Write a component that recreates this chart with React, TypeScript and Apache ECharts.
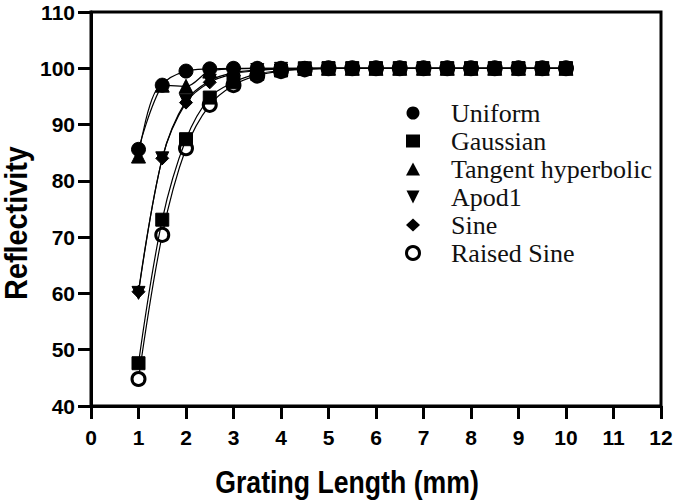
import React, { useEffect, useRef } from "react";
import * as echarts from "echarts";

const xValues = [1, 1.5, 2, 2.5, 3, 3.5, 4, 4.5, 5, 5.5, 6, 6.5, 7, 7.5, 8, 8.5, 9, 9.5, 10];
const uniform = [85.6, 97.0, 99.5, 99.9, 100, 100, 100, 100, 100, 100, 100, 100, 100, 100, 100, 100, 100, 100, 100];
const gaussian = [47.6, 73.1, 87.4, 94.8, 97.5, 99.0, 99.6, 99.9, 100, 100, 100, 100, 100, 100, 100, 100, 100, 100, 100];
const tangentHyperbolic = [84.4, 97.0, 96.8, 99.5, 99.9, 100, 100, 100, 100, 100, 100, 100, 100, 100, 100, 100, 100, 100, 100];
const apod1 = [60.1, 84.0, 94.2, 97.8, 99.2, 99.7, 99.9, 100, 100, 100, 100, 100, 100, 100, 100, 100, 100, 100, 100];
const sine = [60.3, 84.0, 93.9, 97.5, 99.0, 99.6, 99.9, 100, 100, 100, 100, 100, 100, 100, 100, 100, 100, 100, 100];
const raisedSine = [44.8, 70.4, 85.8, 93.5, 97.0, 98.7, 99.5, 99.8, 100, 100, 100, 100, 100, 100, 100, 100, 100, 100, 100];

const xTicks = { min: 0, max: 12, interval: 1 };
const yTicks = { min: 40, max: 110, interval: 10 };
const xTitle = "Grating Length (mm)";
const yTitle = "Reflectivity";
const downTriangle = "path://M0,0L10,0L5,10Z";
const sans = "'Liberation Sans', Arial, sans-serif";

export default function App() {
  const ref = useRef<HTMLDivElement>(null);
  useEffect(() => {
    if (!ref.current) return;
    const chart = echarts.init(ref.current, null, { renderer: "svg" });
    const pair = (ys: number[]) => xValues.map((x, i) => [x, ys[i]]);
    const mk = (name: string, ys: number[], symbol: string, size: number, z: number, itemStyle: any = null) => ({
      name,
      type: "line",
      data: pair(ys),
      smooth: 0.35,
      symbol,
      symbolSize: size,
      lineStyle: { color: "#000", width: 1.2 },
      itemStyle: itemStyle || { color: "#000", borderColor: "#000" },
      z,
    });
    chart.setOption({
      animation: false,
      backgroundColor: "#fff",
      grid: {
        left: 91,
        top: 12,
        right: 24,
        bottom: 97,
        show: true,
        borderColor: "#000",
        borderWidth: 3,
        outerBoundsMode: "none",
        containLabel: false,
      },
      graphic: [
        {
          type: "text",
          x: 347,
          y: 482,
          scaleX: 0.86,
          style: {
            text: xTitle,
            fontFamily: sans,
            fontWeight: "bold",
            fontSize: 31,
            fill: "#000",
            align: "center",
            verticalAlign: "middle",
          },
        },
        {
          type: "text",
          x: 16,
          y: 223,
          rotation: Math.PI / 2,
          scaleX: 0.93,
          style: {
            text: yTitle,
            fontFamily: sans,
            fontWeight: "bold",
            fontSize: 31,
            fill: "#000",
            align: "center",
            verticalAlign: "middle",
          },
        },
      ],
      legend: {
        orient: "vertical",
        left: 400,
        top: 94,
        itemGap: 0,
        itemWidth: 14,
        itemHeight: 13,
        textStyle: { fontFamily: "Liberation Serif", fontSize: 26, lineHeight: 28, color: "#111", padding: [0, 0, 0, 26] },
        data: [
          { name: "Uniform", icon: "circle" },
          { name: "Gaussian", icon: "rect" },
          { name: "Tangent hyperbolic", icon: "triangle" },
          { name: "Apod1", icon: downTriangle },
          { name: "Sine", icon: "diamond" },
          { name: "Raised Sine", icon: "circle", itemStyle: { color: "#fff", borderColor: "#000", borderWidth: 3 } },
        ],
      },
      xAxis: {
        type: "value",
        ...xTicks,
        axisLine: { lineStyle: { color: "#000", width: 3 } },
        axisTick: { length: 13, lineStyle: { color: "#000", width: 3 } },
        axisLabel: { fontFamily: sans, fontWeight: "bold", fontSize: 21, color: "#000", margin: 21 },
        splitLine: { show: false },
      },
      yAxis: {
        type: "value",
        ...yTicks,
        axisLine: { lineStyle: { color: "#000", width: 3 } },
        axisTick: { length: 13, lineStyle: { color: "#000", width: 3 } },
        axisLabel: { fontFamily: sans, fontWeight: "bold", fontSize: 21, color: "#000", margin: 16 },
        splitLine: { show: false },
      },
      series: [
        mk("Raised Sine", raisedSine, "circle", 13, 2, { color: "#fff", borderColor: "#000", borderWidth: 3 }),
        mk("Gaussian", gaussian, "rect", 13, 3),
        mk("Apod1", apod1, downTriangle, 13, 4),
        mk("Sine", sine, "diamond", 13, 5),
        mk("Tangent hyperbolic", tangentHyperbolic, "triangle", 14, 6),
        mk("Uniform", uniform, "circle", 14, 7),
      ],
    });
    return () => chart.dispose();
  }, []);
  return <div ref={ref} style={{ width: 685, height: 503, position: "absolute", left: 0, top: 0 }} />;
}
